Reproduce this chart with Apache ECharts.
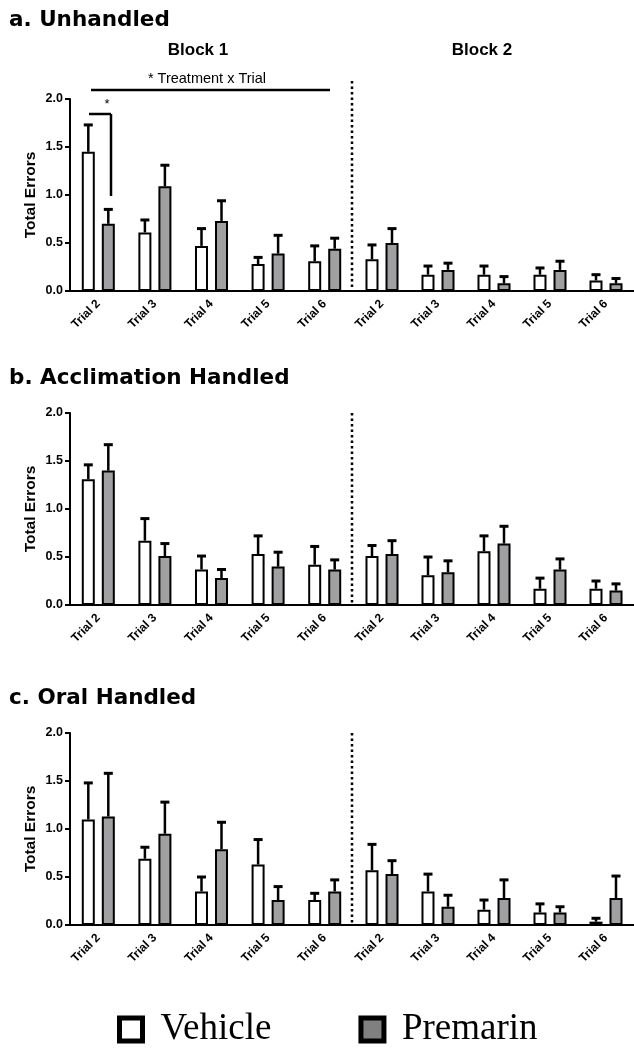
<!DOCTYPE html>
<html>
<head>
<meta charset="utf-8">
<script src="https://cdn.jsdelivr.net/npm/echarts@6/dist/echarts.min.js"></script>
<style>
html,body{margin:0;padding:0;background:#fff;}
#chart{width:634px;height:1050px;}
</style>
</head>
<body>
<div id="chart"></div>
<script>
// categories
var trials = ['Trial 2', 'Trial 3', 'Trial 4', 'Trial 5', 'Trial 6'];
var panelTitles = ['a. Unhandled', 'b. Acclimation Handled', 'c. Oral Handled'];
var blockTitles = ['Block 1', 'Block 2'];
var groups = ['Vehicle', 'Premarin'];

// a. Unhandled  (mean, sem)
var aB1Vehicle = [1.45, 0.61, 0.47, 0.28, 0.31];
var aB1VehicleSem = [0.28, 0.13, 0.18, 0.07, 0.16];
var aB1Premarin = [0.70, 1.09, 0.73, 0.39, 0.44];
var aB1PremarinSem = [0.15, 0.22, 0.21, 0.19, 0.11];
var aB2Vehicle = [0.33, 0.17, 0.17, 0.17, 0.11];
var aB2VehicleSem = [0.15, 0.09, 0.09, 0.07, 0.06];
var aB2Premarin = [0.50, 0.22, 0.08, 0.22, 0.08];
var aB2PremarinSem = [0.15, 0.07, 0.07, 0.09, 0.05];

// b. Acclimation Handled
var bB1Vehicle = [1.31, 0.67, 0.37, 0.53, 0.42];
var bB1VehicleSem = [0.15, 0.23, 0.14, 0.19, 0.19];
var bB1Premarin = [1.40, 0.51, 0.28, 0.40, 0.37];
var bB1PremarinSem = [0.27, 0.13, 0.09, 0.15, 0.10];
var bB2Vehicle = [0.51, 0.31, 0.56, 0.17, 0.17];
var bB2VehicleSem = [0.11, 0.19, 0.16, 0.11, 0.08];
var bB2Premarin = [0.53, 0.34, 0.64, 0.37, 0.15];
var bB2PremarinSem = [0.14, 0.12, 0.18, 0.11, 0.07];

// c. Oral Handled
var cB1Vehicle = [1.10, 0.69, 0.35, 0.63, 0.26];
var cB1VehicleSem = [0.38, 0.12, 0.15, 0.26, 0.07];
var cB1Premarin = [1.13, 0.95, 0.79, 0.26, 0.35];
var cB1PremarinSem = [0.45, 0.33, 0.28, 0.14, 0.12];
var cB2Vehicle = [0.57, 0.35, 0.16, 0.13, 0.035];
var cB2VehicleSem = [0.27, 0.18, 0.10, 0.09, 0.035];
var cB2Premarin = [0.53, 0.19, 0.28, 0.13, 0.28];
var cB2PremarinSem = [0.14, 0.12, 0.19, 0.06, 0.23];

var panels = [
    [[aB1Vehicle, aB1VehicleSem, aB1Premarin, aB1PremarinSem], [aB2Vehicle, aB2VehicleSem, aB2Premarin, aB2PremarinSem]],
    [[bB1Vehicle, bB1VehicleSem, bB1Premarin, bB1PremarinSem], [bB2Vehicle, bB2VehicleSem, bB2Premarin, bB2PremarinSem]],
    [[cB1Vehicle, cB1VehicleSem, cB1Premarin, cB1PremarinSem], [cB2Vehicle, cB2VehicleSem, cB2Premarin, cB2PremarinSem]]
];

var SANS = '"Liberation Sans", Arial, sans-serif';
var panelTop = [99, 413, 733];
var panelTitleY = [20, 378, 698];
var dotTop = [81, 413, 733];
var plotH = 192;
var blockLeft = [70, 354];
var blockW = 283;
var fills = ['#ffffff', '#a0a0a3'];

// 误差线（只画上半段）
function errRender(offset) {
    return function (params, api) {
        var c = api.coord([api.value(0), api.value(1)]);
        var t = api.coord([api.value(0), api.value(1) + api.value(2)]);
        var x = c[0] + offset;
        return {
            type: 'group',
            children: [
                { type: 'line', shape: { x1: x, y1: c[1], x2: x, y2: t[1] }, style: { stroke: '#000', lineWidth: 2.5 } },
                { type: 'line', shape: { x1: x - 4.5, y1: t[1], x2: x + 4.5, y2: t[1] }, style: { stroke: '#000', lineWidth: 3 } }
            ]
        };
    };
}

var grids = [], xAxes = [], yAxes = [], series = [], graphics = [];

for (var p = 0; p < 3; p++) {
    for (var b = 0; b < 2; b++) {
        var g = p * 2 + b;
        grids.push({ left: blockLeft[b], top: panelTop[p], width: blockW, height: plotH });
        xAxes.push({
            gridIndex: g, type: 'category', data: trials,
            axisLine: { lineStyle: { color: '#000', width: 2 } },
            axisTick: { alignWithLabel: true, length: 5, lineStyle: { color: '#000', width: 2 } },
            axisLabel: { rotate: 45, interval: 0, margin: 11, fontSize: 12, fontWeight: 'bold', color: '#000', fontFamily: SANS }
        });
        yAxes.push({
            gridIndex: g, type: 'value', min: 0, max: 2, interval: 0.5,
            show: b === 0,
            name: b === 0 ? 'Total Errors' : '',
            nameLocation: 'middle', nameGap: 31, nameRotate: 90,
            nameTextStyle: { fontSize: 15.5, fontWeight: 'bold', color: '#000', fontFamily: SANS },
            axisLine: { show: true, lineStyle: { color: '#000', width: 2 } },
            axisTick: { show: true, length: 5, lineStyle: { color: '#000', width: 2 } },
            axisLabel: { margin: 7, fontSize: 12.5, fontWeight: 'bold', color: '#000', fontFamily: SANS,
                formatter: function (v) { return v.toFixed(1); } },
            splitLine: { show: false }
        });
        var d = panels[p][b];
        for (var s = 0; s < 2; s++) {
            var means = d[s * 2], sems = d[s * 2 + 1];
            series.push({
                type: 'bar', name: groups[s], xAxisIndex: g, yAxisIndex: g,
                data: means, barWidth: 13, barGap: '54%',
                itemStyle: { color: fills[s], borderColor: '#000', borderWidth: 2 }
            });
            series.push({
                type: 'custom', name: groups[s], xAxisIndex: g, yAxisIndex: g,
                renderItem: errRender(s === 0 ? -10 : 10),
                encode: { x: 0, y: 1 }, z: 3,
                data: means.map(function (m, i) { return [i, m, sems[i]]; })
            });
        }
    }
    graphics.push({
        type: 'text', x: 9, y: panelTitleY[p],
        style: { text: panelTitles[p], font: 'bold 21.5px "DejaVu Sans", sans-serif', fill: '#000', textVerticalAlign: 'middle' }
    });
    graphics.push({
        type: 'line', shape: { x1: 352, y1: dotTop[p], x2: 352, y2: panelTop[p] + plotH },
        style: { stroke: '#000', lineWidth: 2.5, lineDash: [2.5, 3] }
    });
}

// 顶部标注
graphics.push(
    { type: 'text', x: 198, y: 50, style: { text: blockTitles[0], font: 'bold 17px ' + SANS, fill: '#000', textAlign: 'center', textVerticalAlign: 'middle' } },
    { type: 'text', x: 482, y: 50, style: { text: blockTitles[1], font: 'bold 17px ' + SANS, fill: '#000', textAlign: 'center', textVerticalAlign: 'middle' } },
    { type: 'text', x: 207, y: 79, style: { text: '* Treatment x Trial', font: '14.5px ' + SANS, fill: '#000', textAlign: 'center', textVerticalAlign: 'middle' } },
    { type: 'line', shape: { x1: 91, y1: 90, x2: 330, y2: 90 }, style: { stroke: '#000', lineWidth: 2.5 } },
    { type: 'text', x: 107, y: 104, style: { text: '*', font: '13px ' + SANS, fill: '#000', textAlign: 'center', textVerticalAlign: 'middle' } },
    { type: 'line', shape: { x1: 89, y1: 114, x2: 111, y2: 114 }, style: { stroke: '#000', lineWidth: 2.5 } },
    { type: 'line', shape: { x1: 111, y1: 114, x2: 111, y2: 196 }, style: { stroke: '#000', lineWidth: 2.5 } }
);

var myChart = echarts.init(document.getElementById('chart'));
var option = {
    animation: false,
    backgroundColor: '#fff',
    grid: grids,
    xAxis: xAxes,
    yAxis: yAxes,
    series: series,
    graphic: graphics,
    legend: {
        left: 112, top: 1006, icon: 'rect', itemWidth: 23, itemHeight: 23, itemGap: 87,
        selectedMode: false,
        data: [
            { name: 'Vehicle', itemStyle: { color: '#fff', borderColor: '#000', borderWidth: 5 } },
            { name: 'Premarin', itemStyle: { color: '#808080', borderColor: '#000', borderWidth: 5 } }
        ],
        textStyle: { fontFamily: '"Liberation Serif", serif', fontSize: 37, color: '#000', padding: [0, 0, 0, 13] }
    }
};
myChart.setOption(option);
</script>
</body>
</html>
